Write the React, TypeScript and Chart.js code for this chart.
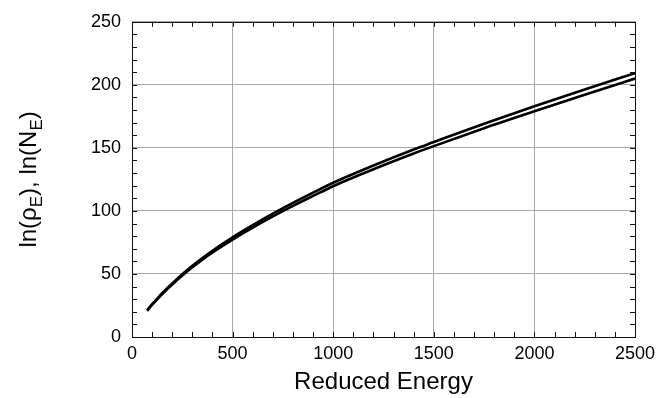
import React, { useEffect, useRef } from "react";
import { Chart, registerables } from "chart.js";

Chart.register(...registerables);

const xValues = [75, 100, 125, 150, 175, 200, 250, 300, 350, 400, 450, 500, 600, 700, 800, 900, 1000, 1200, 1400, 1500, 1750, 2000, 2250, 2500];
const lnRhoE = [21.3, 26.0, 30.4, 34.7, 38.7, 42.5, 49.8, 56.5, 62.7, 68.4, 73.9, 79.1, 88.7, 97.8, 106.4, 114.5, 122.3, 136.0, 148.7, 154.6, 169.2, 183.0, 196.3, 209.3];
const lnNE = [20.8, 25.4, 29.8, 34.0, 37.9, 41.7, 48.8, 55.3, 61.4, 67.0, 72.3, 77.3, 86.7, 95.6, 104.0, 111.9, 119.6, 133.0, 145.5, 151.4, 165.6, 179.0, 192.1, 205.0];
const xTicks = [0, 500, 1000, 1500, 2000, 2500];
const yTicks = [0, 50, 100, 150, 200, 250];
const xTitle = "Reduced Energy";

const FONT = "'Liberation Sans', Arial, Helvetica, sans-serif";

const framePlugin = {
  id: "frame",
  afterDraw(chart: any) {
    const { ctx, chartArea: a, scales } = chart;
    const xs = scales.x;
    const ys = scales.y;
    ctx.save();
    ctx.strokeStyle = "#111";
    ctx.lineWidth = 1;
    ctx.beginPath();
    for (let v = 0; v <= 2500; v += 100) {
      const px = Math.round(xs.getPixelForValue(v)) + 0.5;
      ctx.moveTo(px, a.bottom);
      ctx.lineTo(px, a.bottom - 5);
      ctx.moveTo(px, a.top);
      ctx.lineTo(px, a.top + 5);
    }
    for (let v = 0; v <= 250; v += 10) {
      const py = Math.round(ys.getPixelForValue(v)) + 0.5;
      ctx.moveTo(a.left, py);
      ctx.lineTo(a.left + 5, py);
      ctx.moveTo(a.right, py);
      ctx.lineTo(a.right - 5, py);
    }
    ctx.stroke();
    ctx.strokeRect(Math.round(a.left) + 0.5, Math.round(a.top) + 0.5, Math.round(a.right - a.left), Math.round(a.bottom - a.top));

    // y title with subscripts
    ctx.fillStyle = "#000";
    ctx.textBaseline = "alphabetic";
    const big = "24px " + FONT;
    const small = "17px " + FONT;
    const parts: [string, boolean][] = [
      ["ln(\u03C1", false],
      ["E", true],
      ["), ln(N", false],
      ["E", true],
      [")", false],
    ];
    let total = 0;
    for (const [t, sub] of parts) {
      ctx.font = sub ? small : big;
      total += ctx.measureText(t).width;
    }
    const cy = (a.top + a.bottom) / 2;
    ctx.translate(36, cy);
    ctx.rotate(-Math.PI / 2);
    let x = -total / 2;
    for (const [t, sub] of parts) {
      ctx.font = sub ? small : big;
      ctx.fillText(t, x, sub ? 6 : 0);
      x += ctx.measureText(t).width;
    }
    ctx.restore();

    ctx.save();
    ctx.fillStyle = "#000";
    ctx.font = "24px " + FONT;
    ctx.textAlign = "center";
    ctx.textBaseline = "alphabetic";
    ctx.fillText(xTitle, (a.left + a.right) / 2, 389);
    ctx.restore();
  },
};

export default function App() {
  const ref = useRef<HTMLCanvasElement>(null);
  useEffect(() => {
    if (!ref.current) return;
    const chart = new Chart(ref.current, {
      type: "scatter",
      data: {
        datasets: [
          {
            label: "ln(rhoE)",
            data: xValues.map((x, i) => ({ x, y: lnRhoE[i] })),
            showLine: true,
            borderColor: "#000",
            borderWidth: 2.6,
            pointRadius: 0,
            cubicInterpolationMode: "monotone",
          },
          {
            label: "ln(NE)",
            data: xValues.map((x, i) => ({ x, y: lnNE[i] })),
            showLine: true,
            borderColor: "#000",
            borderWidth: 2.6,
            pointRadius: 0,
            cubicInterpolationMode: "monotone",
          },
        ],
      },
      options: {
        animation: false,
        responsive: false,
        maintainAspectRatio: false,
        layout: { padding: { left: 0, right: 35, top: 17, bottom: 0 } },
        plugins: { legend: { display: false }, tooltip: { enabled: false } },
        scales: {
          x: {
            type: "linear",
            min: 0,
            max: 2500,
            afterFit: (s: any) => { s.height = 61; },
            afterBuildTicks: (s: any) => { s.ticks = xTicks.map((v) => ({ value: v })); },
            grid: { color: "#a8a8a8", lineWidth: 1, drawTicks: false },
            border: { display: false },
            ticks: { color: "#000", font: { family: FONT, size: 18 }, padding: 6, maxRotation: 0, callback: (v: any) => String(v) },
          },
          y: {
            type: "linear",
            min: 0,
            max: 250,
            afterFit: (s: any) => { s.width = 132; },
            afterBuildTicks: (s: any) => { s.ticks = yTicks.map((v) => ({ value: v })); },
            grid: { color: "#a8a8a8", lineWidth: 1, drawTicks: false },
            border: { display: false },
            ticks: { color: "#000", font: { family: FONT, size: 18 }, padding: 11, callback: (v: any) => String(v) },
          },
        },
      },
      plugins: [framePlugin],
    } as any);
    return () => chart.destroy();
  }, []);
  return (
    <div style={{ position: "fixed", left: 0, top: 0, width: 670, height: 398, background: "#fff" }}>
      <canvas ref={ref} width={670} height={398} style={{ width: 670, height: 398 }} />
    </div>
  );
}
